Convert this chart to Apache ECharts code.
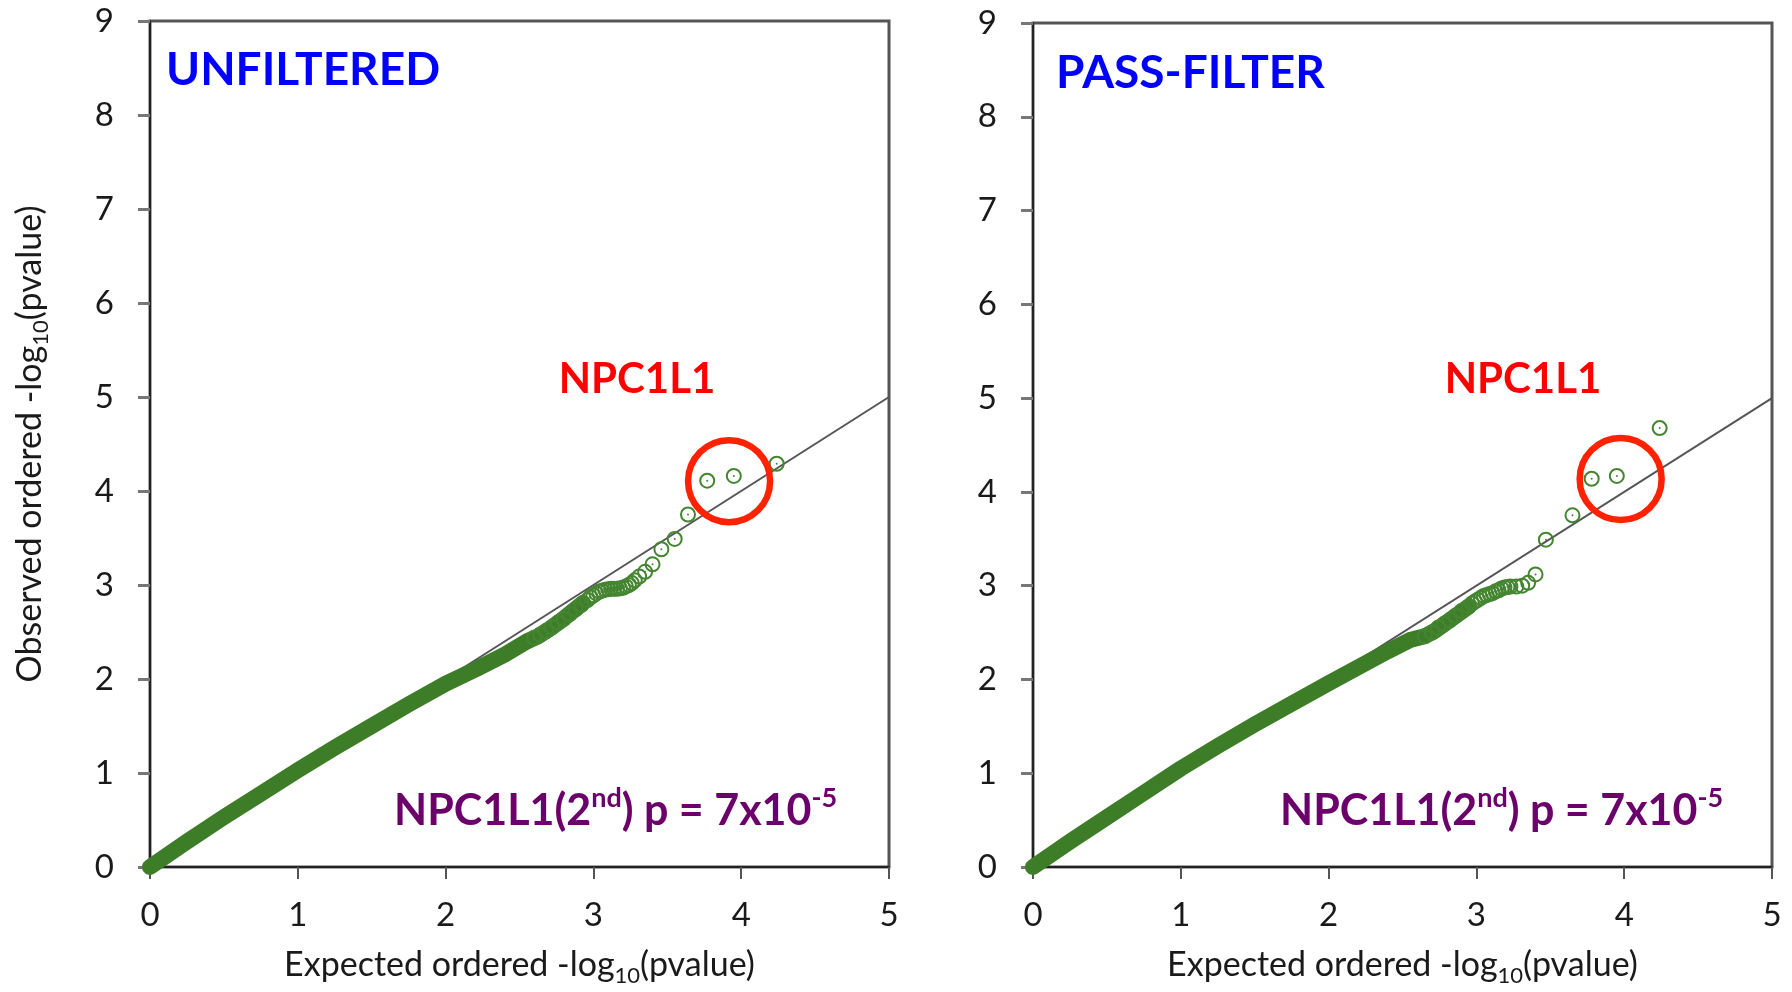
<!DOCTYPE html>
<html><head><meta charset="utf-8">
<script src="https://cdn.jsdelivr.net/npm/echarts@6/dist/echarts.min.js"></script>
<style>html,body{margin:0;padding:0;background:#fff}#c{width:1792px;height:992px}</style>
</head><body><div id="c"></div><script>
// ---- data ----
const panelTitles = ['UNFILTERED', 'PASS-FILTER'];
const xTickValues = [0, 1, 2, 3, 4, 5];
const yTickValues = [0, 1, 2, 3, 4, 5, 6, 7, 8, 9];
const diagonal = [[0, 0], [5, 5]];
// dense part of the QQ cloud (thousands of overlapping points)
const unfilteredBand = [[0,0],[0.25,0.27],[0.5,0.53],[0.75,0.78],[1,1.03],[1.25,1.27],[1.5,1.5],[1.75,1.73],[2,1.95],[2.2,2.1],[2.4,2.26],[2.55,2.4],[2.62,2.45],[2.7,2.53],[2.78,2.62],[2.86,2.72],[2.93,2.81]];
const unfilteredPoints = [[2.6,2.44],[2.64,2.47],[2.68,2.51],[2.72,2.55],[2.76,2.6],[2.8,2.64],[2.84,2.69],[2.88,2.74],[2.92,2.79],[2.96,2.84],[2.98,2.87],[3.0,2.89],[3.02,2.91],[3.04,2.93],[3.06,2.94],[3.08,2.95],[3.1,2.955],[3.12,2.96],[3.14,2.96],[3.16,2.96],[3.18,2.965],[3.2,2.97],[3.22,2.985],[3.24,3.0],[3.26,3.02],[3.28,3.05],[3.31,3.09],[3.35,3.14],[3.4,3.22],[3.46,3.38],[3.55,3.49],[3.64,3.75],[3.77,4.11],[3.95,4.16],[4.24,4.29]];
const passBand = [[0,0],[0.25,0.27],[0.5,0.53],[0.75,0.79],[1,1.05],[1.25,1.29],[1.5,1.52],[1.75,1.74],[2,1.96],[2.2,2.13],[2.4,2.3],[2.55,2.42],[2.65,2.46],[2.72,2.52],[2.8,2.61],[2.88,2.7],[2.95,2.78]];
const passPoints = [[2.65,2.46],[2.7,2.5],[2.74,2.55],[2.78,2.59],[2.82,2.63],[2.86,2.68],[2.9,2.73],[2.95,2.78],[2.97,2.81],[2.99,2.83],[3.01,2.85],[3.03,2.87],[3.05,2.89],[3.07,2.9],[3.09,2.91],[3.11,2.92],[3.13,2.94],[3.15,2.95],[3.17,2.97],[3.19,2.98],[3.21,2.985],[3.23,2.99],[3.27,2.99],[3.31,3.0],[3.35,3.03],[3.4,3.12],[3.47,3.49],[3.65,3.75],[3.78,4.14],[3.95,4.17],[4.24,4.68]];
const highlightCircle = [[[3.918, 4.105]], [[3.976, 4.137]]];
const geneLabel = 'NPC1L1';
const noteParts = ['NPC1L1(2', 'nd', ') p = 7x10', '-5'];
const xName = ['Expected ordered -log', '10', '(pvalue)'];
const yName = ['Observed ordered -log', '10', '(pvalue)'];

// ---- styling / layout ----
const FONT = 'Lato';
const GREEN = '#3d7d27';
const PGREEN = '#458531';
const grids = [
  {left: 150, top: 21, width: 739, height: 846},
  {left: 1033, top: 23, width: 739, height: 847}
];
const nameRich = {
  t: {fontSize: 34, fontFamily: FONT, color: '#1a1a1a', lineHeight: 44},
  s: {fontSize: 22, fontFamily: FONT, color: '#1a1a1a', verticalAlign: 'bottom'}
};
function richName(p) { return '{t|' + p[0] + '}{s|' + p[1] + '}{t|' + p[2] + '}'; }

const xAxes = [], yAxes = [], series = [];
grids.forEach((g, i) => {
  xAxes.push({
    gridIndex: i, type: 'value', min: xTickValues[0], max: xTickValues[xTickValues.length - 1], interval: 1,
    axisLine: {show: true, onZero: false, lineStyle: {color: '#222', width: 2}},
    axisTick: {show: true, length: 12, lineStyle: {color: '#555', width: 2}},
    axisLabel: {fontSize: 33, color: '#1a1a1a', fontFamily: FONT, margin: 32},
    splitLine: {show: false},
    name: richName(xName), nameLocation: 'middle', nameGap: 76,
    nameTextStyle: {rich: nameRich}
  });
  yAxes.push({
    gridIndex: i, type: 'value', min: yTickValues[0], max: yTickValues[yTickValues.length - 1], interval: 1,
    axisLine: {show: true, onZero: false, lineStyle: {color: '#222', width: 2}},
    axisTick: {show: true, length: 12, lineStyle: {color: '#777', width: 3}},
    axisLabel: {fontSize: 33, color: '#1a1a1a', fontFamily: FONT, margin: 36},
    splitLine: {show: false},
    name: i === 0 ? richName(yName) : '', nameLocation: 'middle', nameGap: 98, nameRotate: 90,
    nameTextStyle: {rich: nameRich}
  });
});

const bands = [unfilteredBand, passBand];
const pts = [unfilteredPoints, passPoints];
for (let i = 0; i < 2; i++) {
  series.push({
    type: 'line', xAxisIndex: i, yAxisIndex: i, data: diagonal, symbol: 'none', silent: true,
    lineStyle: {color: '#555', width: 2}, z: 2
  });
  series.push({
    type: 'line', xAxisIndex: i, yAxisIndex: i, data: bands[i], symbol: 'none', clip: false,
    lineStyle: {color: GREEN, width: 16, cap: 'round', join: 'round'}, z: 3
  });
  series.push({
    type: 'scatter', xAxisIndex: i, yAxisIndex: i, data: pts[i], symbol: 'circle', symbolSize: 14,
    itemStyle: {color: 'rgba(0,0,0,0)', borderColor: PGREEN, borderWidth: 2, opacity: 1}, z: 4
  });
  series.push({
    type: 'scatter', xAxisIndex: i, yAxisIndex: i, data: pts[i], symbol: 'circle', symbolSize: 2,
    itemStyle: {color: PGREEN, opacity: 1}, z: 4, silent: true
  });
  series.push({
    type: 'scatter', xAxisIndex: i, yAxisIndex: i, data: highlightCircle[i], symbol: 'circle', symbolSize: 82,
    itemStyle: {color: 'rgba(0,0,0,0)', borderColor: '#ff2200', borderWidth: 6.5, opacity: 1}, z: 5
  });
}

const noteRich = {
  a: {fontSize: 43, fontWeight: 'bold', fontFamily: FONT, fill: '#6b006b', lineHeight: 52},
  b: {fontSize: 27, fontWeight: 'bold', fontFamily: FONT, fill: '#6b006b', verticalAlign: 'top'}
};
const noteText = '{a|' + noteParts[0] + '}{b|' + noteParts[1] + '}{a|' + noteParts[2] + '}{b|' + noteParts[3] + '}';
const graphic = [];
const titlePos = [[166, 70], [1056, 73]];
const genePos = [[637, 379], [1523, 379]];
const notePos = [[394, 811], [1280, 811]];
for (let i = 0; i < 2; i++) {
  graphic.push({type: 'text', x: titlePos[i][0], y: titlePos[i][1], z: 10,
    style: {text: panelTitles[i], fill: '#0000ff', fontSize: 46, fontWeight: 'bold', fontFamily: FONT, align: 'left', verticalAlign: 'middle'}});
  graphic.push({type: 'text', x: genePos[i][0], y: genePos[i][1], z: 10,
    style: {text: geneLabel, fill: '#ff0000', fontSize: 42, fontWeight: 'bold', fontFamily: FONT, align: 'center', verticalAlign: 'middle'}});
  graphic.push({type: 'text', x: notePos[i][0], y: notePos[i][1], z: 10,
    style: {text: noteText, rich: noteRich, align: 'left', verticalAlign: 'middle'}});
}

const chart = echarts.init(document.getElementById('c'), null, {renderer: 'canvas'});
chart.setOption({
  animation: false,
  backgroundColor: '#fff',
  grid: grids.map(g => Object.assign({show: true, borderColor: '#555', borderWidth: 3, backgroundColor: 'transparent'}, g)),
  xAxis: xAxes, yAxis: yAxes, series: series, graphic: graphic
});
</script></body></html>
